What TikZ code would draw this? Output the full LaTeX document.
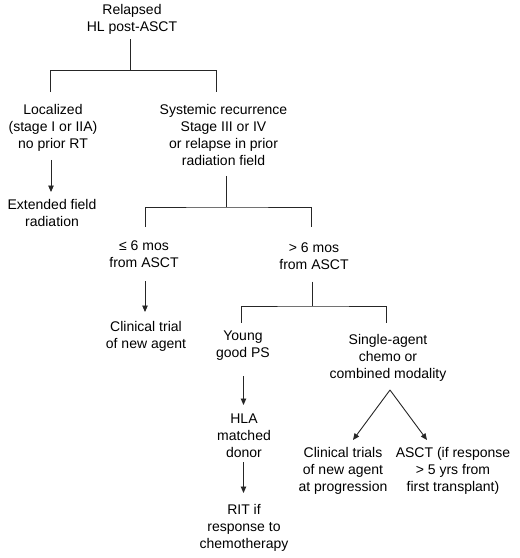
\documentclass[tikz,border=0pt]{standalone}
\usepackage{fontspec}
\setmainfont{Liberation Sans}
\usetikzlibrary{arrows.meta}
\begin{document}
\begin{tikzpicture}[x=1pt,y=-1pt,
  txt/.style={anchor=north,align=center,inner sep=0pt,outer sep=0pt,
    font=\fontsize{14}{17}\selectfont,text=black},
  ln/.style={draw=black!85,line width=0.9pt},
  arr/.style={ln,-{Triangle[length=6.5pt,width=5.5pt]}}]
\useasboundingbox (0,0) rectangle (520,558);
% nodes
\node[txt] (top)    at (132,4)   {Relapsed\\HL post-ASCT};
\node[txt] (loc)    at (53,104)  {Localized\\(stage I or IIA)\\no prior RT};
\node[txt] (sys)    at (223.5,104) {Systemic recurrence\\Stage III or IV\\or relapse in prior\\radiation field};
\node[txt] (ext)    at (52,199)  {Extended field\\radiation};
\node[txt] (le6)    at (144,241) {≤ 6 mos\\from ASCT};
\node[txt] (clin1)  at (146,321) {Clinical trial\\of new agent};
\node[txt] (gt6)    at (314,243) {> 6 mos\\from ASCT};
\node[txt] (young)  at (243,331) {Young\\good PS};
\node[txt] (single) at (388,334) {Single-agent\\chemo or\\combined modality};
\node[txt] (hla)    at (244,414) {HLA\\matched\\donor};
\node[txt] (rit)    at (244,504) {RIT if\\response to\\chemotherapy};
\node[txt] (ct)     at (343,447) {Clinical trials\\of new agent\\at progression};
\node[txt] (asct)   at (453,447) {ASCT (if response\\> 5 yrs from\\first transplant)};
% junctions
\coordinate (j1) at (130.7,70.5);
\coordinate (e1a) at (50,92);
\coordinate (e1b) at (216.7,92);
\coordinate (j2) at (226,207);
\coordinate (e2a) at (145,227);
\coordinate (e2b) at (311.7,227);
\coordinate (j3) at (312.3,306);
\coordinate (e3a) at (241.7,322.7);
\coordinate (e3b) at (386.7,322.7);
\coordinate (apex) at (390,390);
\coordinate (tipL) at (353,440);
\coordinate (tipR) at (427,440);
% connectors
\draw[ln,shorten <=5pt] (top.south -| j1) -- (j1);
\draw[ln] (e1a) |- (j1) -| (e1b);
\draw[arr,shorten <=8.7pt,shorten >=7pt] (loc.south -| 51,0) -- (ext.north -| 51,0);
\draw[ln,shorten <=10.7pt] (sys.south -| j2) -- (j2);
\draw[ln] (e2a) |- (j2) -| (e2b);
\draw[arr,shorten <=13.5pt,shorten >=9pt] (le6.south -| 145,0) -- (clin1.north -| 145,0);
\draw[ln,shorten <=11.7pt] (gt6.south -| j3) -- (j3);
\draw[ln] (e3a) |- (j3) -| (e3b);
\draw[arr,shorten <=15.5pt,shorten >=9pt] (young.south -| 243.5,0) -- (hla.north -| 243.5,0);
\draw[arr,shorten <=4.7pt,shorten >=11pt] (hla.south -| 243.5,0) -- (rit.north -| 243.5,0);
\draw[arr] (apex) -- (tipL);
\draw[arr] (apex) -- (tipR);
\end{tikzpicture}
\end{document}
